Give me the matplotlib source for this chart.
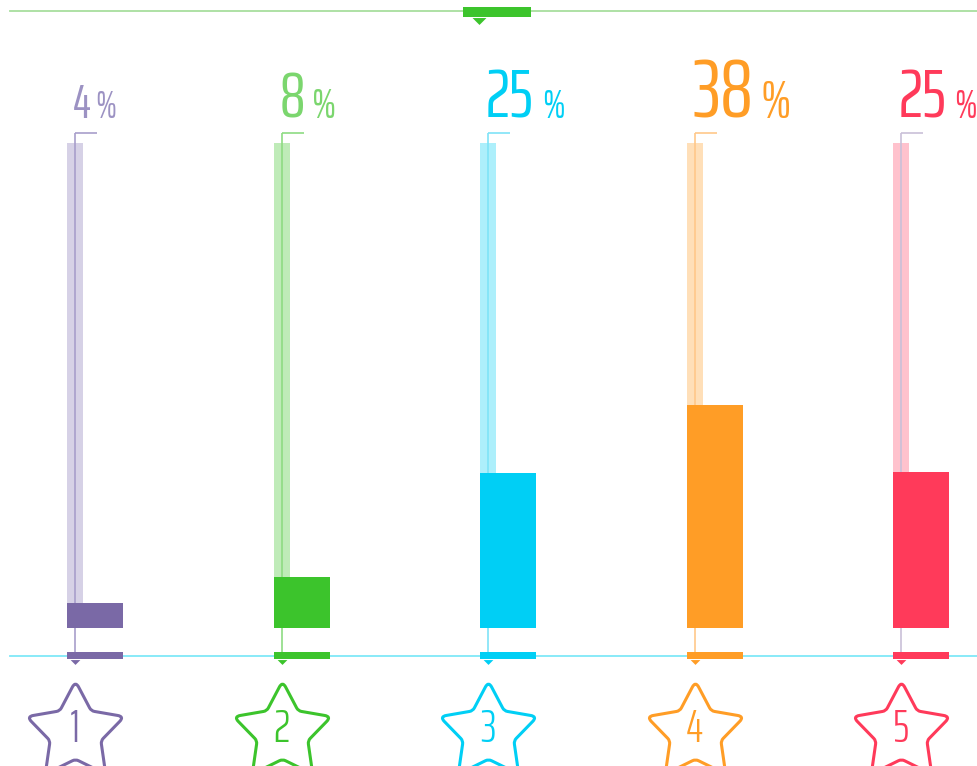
import matplotlib
matplotlib.use('Agg')
import matplotlib.pyplot as plt
import numpy as np
from matplotlib.path import Path
from matplotlib.markers import MarkerStyle
from matplotlib import font_manager

# ---------------- data ----------------
ratings = ['1', '2', '3', '4', '5']
pct_labels = ['4', '8', '25', '38', '25']
bar_values = [5.2, 10.5, 32.0, 46.0, 32.2]   # bar heights on the 0-100 track
track_max = 100

# ---------------- style ----------------
colors = ['#7A69A6', '#3CC42C', '#00CFF5', '#FF9D26', '#FF3A5A']
light = ['#D6D1E6', '#BFEBB8', '#ADEFFB', '#FFDFB8', '#FFC2CD']
linec = ['#A89ECB', '#8EDB83', '#7FE3F7', '#FFC88A', '#C9C0D8']
labelc = ['#9C92C3', '#7BD66E', '#00CFF5', '#FF9D26', '#FF3A5A']
num_sizes = [34, 46, 48, 59, 48]
pct_sizes = [27, 31, 29, 39, 29]
pct_gaps = [4, 7, 8, 7, 7]

names = {f.name for f in font_manager.fontManager.ttflist}
FONT = next((n for n in ['Saira ExtraCondensed', 'Saira Condensed', 'Barlow Condensed',
                         'Roboto Condensed'] if n in names), 'DejaVu Sans')

W, H = 977, 766
fig = plt.figure(figsize=(W / 100, H / 100), dpi=100)
ax = fig.add_axes([0, 0, 1, 1])
ax.set_axis_off()

# layout in pixels -> data units
PXX = 1 / 206.5          # category units per pixel
PXY = track_max / 485.0  # value units per pixel
x0_px, base_px = 95, 628
ax.set_xlim(-x0_px * PXX, (W - x0_px) * PXX)
ax.set_ylim(-(H - base_px) * PXY, base_px * PXY)

x = np.arange(len(ratings))
bar_w = 56 * PXX
left = x - bar_w / 2
guide_x = left + 8 * PXX

# light tracks
ax.bar(left, [track_max] * len(x), width=16 * PXX, align='edge', color=light, zorder=1)
# guide lines
for i in range(len(x)):
    ax.plot([guide_x[i], guide_x[i]], [(base_px - 133) * PXY, -(655 - base_px) * PXY],
            color=linec[i], lw=1.2, zorder=2, solid_capstyle='butt')
    ax.plot([guide_x[i], guide_x[i] + 22 * PXX], [(base_px - 133) * PXY] * 2,
            color=linec[i], lw=1.2, zorder=2, solid_capstyle='butt')
# value bars
ax.bar(left, bar_values, width=bar_w, align='edge', color=colors, zorder=3)

# baseline line
ax.axhline(-(656 - base_px) * PXY, xmin=10 / W, xmax=1, color='#7FE8F8', lw=1.3, zorder=2)
# bottom markers
ax.bar(left, [7 * PXY] * len(x), bottom=-(659 - base_px) * PXY, width=bar_w,
       align='edge', color=colors, zorder=4)
tri = MarkerStyle(Path([(-1, 0.5), (1, 0.5), (0, -0.5), (-1, 0.5)],
                       [Path.MOVETO, Path.LINETO, Path.LINETO, Path.CLOSEPOLY]))
for i in range(len(x)):
    ax.plot(guide_x[i], -(661.5 - base_px) * PXY, marker=tri, ms=7, color=colors[i],
            mec='none', zorder=4)

# top decoration
top_y = (base_px - 11) * PXY
ax.axhline(top_y, xmin=10 / W, xmax=1, color='#A8DE9E', lw=1.3, zorder=2)
ax.bar([(463 - x0_px) * PXX], [10 * PXY], bottom=(base_px - 17) * PXY, width=68 * PXX,
       align='edge', color='#3CC42C', zorder=4)
ax.plot((479 - x0_px) * PXX, (base_px - 21) * PXY, marker=tri, ms=10, color='#3CC42C',
        mec='none', zorder=4)


# rounded star
def rounded_star(n=5, r_in=0.52, t=0.2):
    pts = []
    for k in range(2 * n):
        ang = np.pi / 2 + k * np.pi / n
        r = 1.0 if k % 2 == 0 else r_in
        pts.append((r * np.cos(ang), r * np.sin(ang)))
    pts = np.array(pts)
    verts, codes = [], []
    N = len(pts)
    for k in range(N):
        prev, cur, nxt = pts[k - 1], pts[k], pts[(k + 1) % N]
        tt = t if k % 2 == 0 else t * 0.5
        p1 = cur + tt * (prev - cur)
        p2 = cur + tt * (nxt - cur)
        verts.append(p1)
        codes.append(Path.MOVETO if k == 0 else Path.LINETO)
        verts += [cur, p2]
        codes += [Path.CURVE3, Path.CURVE3]
    verts.append(verts[0])
    codes.append(Path.CLOSEPOLY)
    return Path(verts, codes)


star = MarkerStyle(rounded_star(), joinstyle='round')
star_y = -(732 - base_px) * PXY
for i in range(len(x)):
    ax.plot(guide_x[i], star_y, marker=star, ms=74, mfc='white', mec=colors[i],
            mew=2.2, zorder=5)
    ax.text(guide_x[i], -(729 - base_px) * PXY, ratings[i], color=colors[i],
            fontsize=33, family=FONT, weight=300, ha='center', va='center', zorder=6)

# percentage labels
lab_y = (base_px - 118) * PXY
for i in range(len(x)):
    t = ax.text(guide_x[i] - 2 * PXX, lab_y, pct_labels[i], color=labelc[i],
                fontsize=num_sizes[i], family=FONT, weight=400, ha='left',
                va='baseline', zorder=6)
    ax.annotate('%', xy=(1, lab_y), xycoords=(t, 'data'), xytext=(pct_gaps[i], 0),
                textcoords='offset pixels', color=labelc[i], fontsize=pct_sizes[i],
                family=FONT, weight=400, ha='left', va='baseline', zorder=6)

fig.savefig('out.png', dpi=100)
